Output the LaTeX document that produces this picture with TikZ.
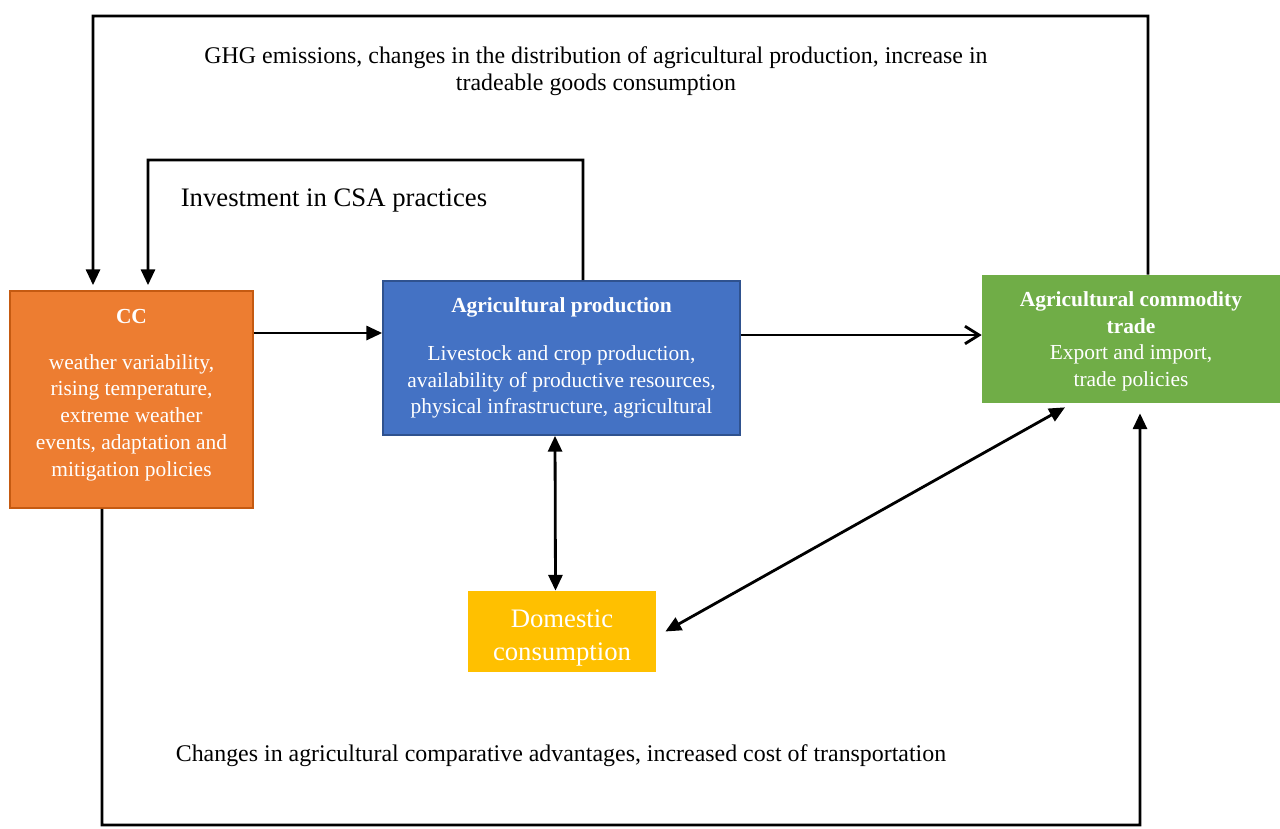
\documentclass[tikz,border=0pt]{standalone}
\usepackage{fontspec}
\setmainfont{Liberation Serif}
\usetikzlibrary{arrows.meta}

\definecolor{ccorange}{HTML}{ED7D31}
\definecolor{ccborder}{HTML}{C55A11}
\definecolor{prodblue}{HTML}{4472C4}
\definecolor{prodborder}{HTML}{2F528F}
\definecolor{tradegreen}{HTML}{70AD47}
\definecolor{domyellow}{HTML}{FFC000}

\tikzstyle{box} = [text=white, align=center, inner sep=2pt, font=\fontsize{12.2}{15.2}\selectfont]
\tikzstyle{flow} = [line width=1.6pt, -{Triangle[length=9pt,width=8pt]}]
\tikzstyle{both} = [line width=1.6pt, {Triangle[length=9pt,width=8pt]}-{Triangle[length=9pt,width=8pt]}]
\tikzstyle{lbl} = [align=center, font=\fontsize{13.6}{15.4}\selectfont]

\begin{document}
\begin{tikzpicture}[x=0.02cm, y=-0.02cm]
\useasboundingbox (0,0) rectangle (1280,828);

\node[box, fill=ccorange, draw=ccborder, line width=1pt, minimum width=4.86cm, minimum height=4.34cm] (cc) at (131.5,399.5)
    {\textbf{CC}\\[11pt] weather variability,\\ rising temperature,\\ extreme weather\\ events, adaptation and\\ mitigation policies\rule[-8pt]{0pt}{0pt}};
\node[box, fill=prodblue, draw=prodborder, line width=1pt, minimum width=7.14cm, minimum height=3.08cm] (prod) at (561.5,358)
    {\textbf{Agricultural production}\\[12pt] Livestock and crop production,\\ availability of productive resources,\\ physical infrastructure, agricultural};
\node[box, fill=tradegreen, minimum width=5.96cm, minimum height=2.56cm] (trade) at (1131,339)
    {\rule{0pt}{11pt}\textbf{Agricultural commodity}\\ \textbf{trade}\\ Export and import,\\ trade policies};
\node[box, fill=domyellow, minimum width=3.76cm, minimum height=1.62cm, font=\fontsize{15.2}{18.8}\selectfont] (dom) at (562,631.5)
    {\rule{0pt}{17pt}Domestic\\ consumption};

\node[lbl] (ghg) at (596,71) {GHG emissions, changes in the distribution of agricultural production, increase in\\ tradeable goods consumption};
\node[lbl, font=\fontsize{15.2}{17}\selectfont] (csa) at (334,201) {Investment in CSA practices};
\node[lbl] (cost) at (561,756) {Changes in agricultural comparative advantages, increased cost of transportation};

\coordinate (ghgcorner) at (93,16);
\coordinate (csacorner) at (148,160);
\coordinate (costcorner) at (1140,825);

\draw[flow] ([xshift=0.34cm]trade.north) |- (ghgcorner) -- ([xshift=-0.77cm, yshift=0.1cm]cc.north);
\draw[flow] ([xshift=0.43cm]prod.north) |- (csacorner) -- ([xshift=0.33cm, yshift=0.1cm]cc.north);
\draw[flow] ([yshift=1.33cm]cc.east) -- ([yshift=1.33cm]cc.east -| prod.west);
\draw[line width=1.6pt, -{Straight Barb[length=8pt,width=10pt]}] ([yshift=0.08cm]prod.east |- trade.west) -- ([yshift=0.08cm]trade.west);
\draw[both] ([xshift=-0.13cm]prod.south) -- ([xshift=-0.13cm]dom.north);
\draw[both] ([xshift=-1.32cm, yshift=-0.08cm]trade.south) -- ([xshift=0.18cm]dom.east);
\draw[flow] ([xshift=-0.59cm]cc.south) |- (costcorner) -- ([xshift=0.18cm, yshift=-0.2cm]trade.south);
\end{tikzpicture}
\end{document}
